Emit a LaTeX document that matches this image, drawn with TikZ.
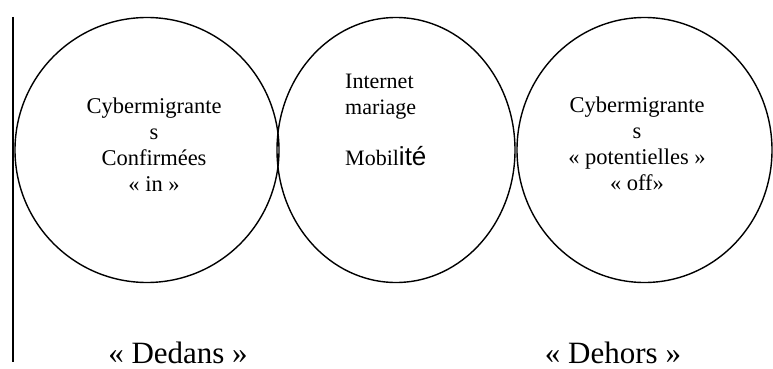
\documentclass[tikz,border=0pt]{standalone}
\usepackage{fontspec}
\setmainfont{Liberation Serif}
\newfontfamily\sansf{Liberation Sans}
\usetikzlibrary{shapes.geometric}
\tikzset{
  ring/.style={draw=black, line width=1.4pt, ellipse, inner sep=0pt},
  intext/.style={align=center, inner sep=0pt, font=\fontsize{22.5}{26}\selectfont},
  midtext/.style={align=left, inner sep=0pt, font=\fontsize{22}{26}\selectfont},
  bigtext/.style={inner sep=0pt, font=\fontsize{31}{34}\selectfont},
  border/.style={line width=1.4pt}
}
\begin{document}
\begin{tikzpicture}[x=1pt,y=-1pt]
\useasboundingbox (0,0) rectangle (773,369);
\coordinate (lt) at (13,17);
\coordinate (lb) at (13,362);
\draw[border] (lt) -- (lb);
\node[ring, minimum width=264pt, minimum height=265pt] (cin) at (147,150) {};
\node[ring, minimum width=238pt, minimum height=265pt] (cmid) at (396,150) {};
\node[ring, minimum width=255pt, minimum height=265pt] (cout) at (644.5,150) {};
\node[intext, anchor=base] (tin) at (154,191) {Cybermigrante\\s\\Confirmées\\« in »};
\node[intext, anchor=base] (tout) at (637,190) {Cybermigrante\\s\\« potentielles »\\« off»};
\node[midtext, anchor=base west] (tmid1) at (345,114) {Internet\\mariage};
\node[midtext, anchor=base west] (tmid2) at (345,165) {Mobil{\sansf\fontsize{26}{26}\selectfont ité}};
\node[bigtext, anchor=base] (dedans) at (178,363) {« Dedans »};
\node[bigtext, anchor=base] (dehors) at (613,363) {« Dehors »};
\end{tikzpicture}
\end{document}
